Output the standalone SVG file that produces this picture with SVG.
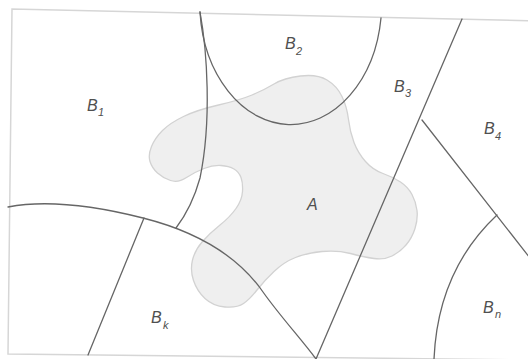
<svg xmlns="http://www.w3.org/2000/svg" width="528" height="359" viewBox="0 0 528 359">
<style>
.frame{fill:none;stroke:#d6d6d6;stroke-width:1.5}
.bd{fill:none;stroke:#666;stroke-width:1.3;stroke-linecap:round}
.blob{fill:#efefef;stroke:#d2d2d2;stroke-width:1.3}
.lbl{font-family:"Liberation Sans",Arial,sans-serif;font-style:italic;fill:#505050;font-size:16px}
.sub{font-family:"Liberation Sans",Arial,sans-serif;font-style:italic;fill:#505050;font-size:11px}
</style>
<rect width="528" height="359" fill="#fff"/>
<path class="frame" d="M 540,21 L 12,9 L 8,354 L 540,360"/>
<g id="A">
<path class="blob" d="M 183.5,116.5 Q 197,110 218.5,105 Q 240,100 252,95 Q 264,90 274,84 Q 284,78 300.5,76 Q 317,74 327,80 Q 337,86 342,96.5 Q 347,107 348.5,119.5 Q 350,132 354,142.5 Q 358,153 365.5,161.5 Q 373,170 383,173.5 Q 393,177 400.5,182 Q 408,187 412,194.5 Q 416,202 417,210.5 Q 418,219 415,228.5 Q 412,238 406,245 Q 400,252 392,256 Q 384,260 374,258.5 Q 364,257 350.5,253.5 Q 337,250 322,251.5 Q 307,253 295.5,257.5 Q 284,262 274,271.5 Q 264,281 257,290 Q 250,299 243.5,303.5 Q 237,308 225,307 Q 213,306 205,298.5 Q 197,291 193.5,280.5 Q 190,270 192.5,260 Q 195,250 202.5,241.5 Q 210,233 220,225 Q 230,217 236,208.5 Q 242,200 242.5,191.5 Q 243,183 241,177.5 Q 239,172 234,169 Q 229,166 221,165.5 Q 213,165 204,168.5 Q 195,172 186.5,177.5 Q 178,183 170.5,180.5 Q 163,178 157.5,173 Q 152,168 150,161.5 Q 148,155 151.5,146.5 Q 155,138 162.5,130.5 Q 170,123 183.5,116.5 Z"/>
<text class="lbl" x="307" y="210">A</text>
</g>
<g id="connectors">
<path class="bd" d="M 200,12 C 207,50 212,120 200,178 Q 192,207 176,228"/>
<path class="bd" d="M 200,12 A 91,122 0 0 0 381,18"/>
<path class="bd" d="M 8,207 Q 60,197 143,218 Q 226,239 263,292 C 280,316 302,340 316,359"/>
<path class="bd" d="M 144,218 L 88,355"/>
<path class="bd" d="M 462,19 L 316,359"/>
<path class="bd" d="M 422,120 L 530,258"/>
<path class="bd" d="M 497,215 C 465,245 437,290 434,359"/>
</g>
<g id="B1"><text class="lbl" x="87" y="111">B</text><text class="sub" x="98" y="116">1</text></g>
<g id="B2"><text class="lbl" x="285" y="49">B</text><text class="sub" x="296" y="55">2</text></g>
<g id="B3"><text class="lbl" x="394" y="92">B</text><text class="sub" x="405" y="97">3</text></g>
<g id="B4"><text class="lbl" x="484" y="134">B</text><text class="sub" x="495" y="140">4</text></g>
<g id="Bk"><text class="lbl" x="151" y="323">B</text><text class="sub" x="163" y="329">k</text></g>
<g id="Bn"><text class="lbl" x="483" y="313">B</text><text class="sub" x="495" y="318">n</text></g>
</svg>
